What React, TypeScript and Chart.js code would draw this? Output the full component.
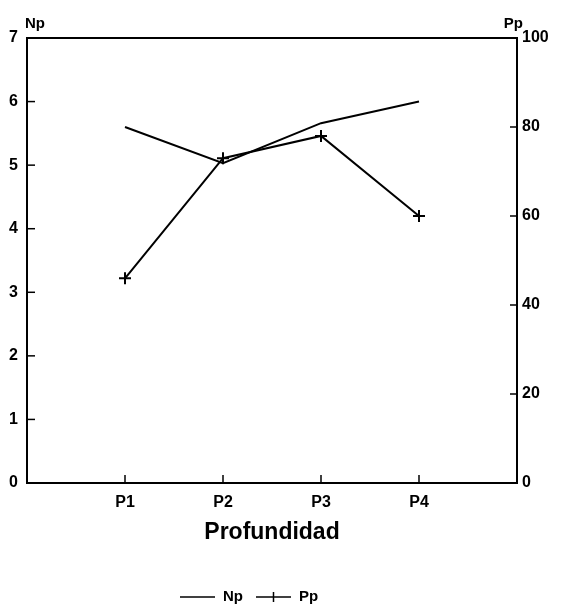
import React, { useEffect, useRef } from 'react';
import { Chart, registerables } from 'chart.js';

Chart.register(...registerables);

// ---- Data ----
const categories = ['', 'P1', 'P2', 'P3', 'P4', ''];
const npValues: (number | null)[] = [null, 5.6, 5.03, 5.66, 6.0, null];
const ppValues: (number | null)[] = [null, 46, 73, 78, 60, null];
const npRange = { min: 0, max: 7, step: 1 };
const ppRange = { min: 0, max: 100, step: 20 };
const xTitle = 'Profundidad';
const leftTitle = 'Np';
const rightTitle = 'Pp';
const seriesNames = ['Np', 'Pp'];

const FONT = '"Liberation Sans", Arial, sans-serif';

const framePlugin = {
  id: 'frame',
  afterDraw(chart: any) {
    const { ctx, chartArea: a, scales } = chart;
    ctx.save();
    ctx.strokeStyle = '#000';
    ctx.fillStyle = '#000';
    ctx.lineWidth = 2;
    ctx.strokeRect(a.left, a.top, a.right - a.left, a.bottom - a.top);

    // inward tick marks
    ctx.lineWidth = 1.5;
    scales.y.ticks.forEach((t: any) => {
      const y = scales.y.getPixelForValue(t.value);
      ctx.beginPath();
      ctx.moveTo(a.left, y);
      ctx.lineTo(a.left + 8, y);
      ctx.stroke();
    });
    scales.y1.ticks.forEach((t: any) => {
      const y = scales.y1.getPixelForValue(t.value);
      ctx.beginPath();
      ctx.moveTo(a.right - 7, y);
      ctx.lineTo(a.right, y);
      ctx.stroke();
    });
    categories.forEach((c, i) => {
      if (!c) return;
      const x = scales.x.getPixelForValue(i);
      ctx.beginPath();
      ctx.moveTo(x, a.bottom);
      ctx.lineTo(x, a.bottom - 8);
      ctx.stroke();
    });

    // axis titles
    ctx.font = `bold 15px ${FONT}`;
    ctx.textBaseline = 'alphabetic';
    ctx.textAlign = 'left';
    ctx.fillText(leftTitle, a.left - 2, a.top - 10);
    ctx.textAlign = 'right';
    ctx.fillText(rightTitle, a.right + 6, a.top - 10);

    // legend
    ctx.font = `bold 15px ${FONT}`;
    ctx.textAlign = 'left';
    ctx.textBaseline = 'middle';
    const ly = 597;
    const lineLen = 35;
    let x = a.left + 153;
    seriesNames.forEach((name, i) => {
      ctx.lineWidth = 1.5;
      ctx.beginPath();
      ctx.moveTo(x, ly);
      ctx.lineTo(x + lineLen, ly);
      ctx.stroke();
      if (i === 1) {
        const cx = x + lineLen / 2;
        ctx.beginPath();
        ctx.moveTo(cx, ly - 5);
        ctx.lineTo(cx, ly + 5);
        ctx.stroke();
      }
      x += lineLen + 8;
      ctx.fillText(name, x, ly);
      x += ctx.measureText(name).width + 13;
    });
    ctx.restore();
  },
};

export default function App() {
  const ref = useRef<HTMLCanvasElement | null>(null);

  useEffect(() => {
    if (!ref.current) return;
    const tickFont = { family: FONT, size: 16, weight: 'bold' as const };
    const chart = new Chart(ref.current, {
      type: 'line',
      data: {
        labels: categories,
        datasets: [
          {
            label: seriesNames[0],
            data: npValues,
            yAxisID: 'y',
            borderColor: '#000',
            backgroundColor: '#000',
            borderWidth: 2,
            pointRadius: 0,
            tension: 0,
          },
          {
            label: seriesNames[1],
            data: ppValues,
            yAxisID: 'y1',
            borderColor: '#000',
            backgroundColor: '#000',
            borderWidth: 2,
            pointStyle: 'cross',
            pointRadius: 6,
            pointBorderWidth: 2,
            tension: 0,
          },
        ],
      },
      options: {
        responsive: false,
        animation: false,
        layout: { padding: { top: 38, left: 0, right: 0, bottom: 58 } },
        plugins: {
          legend: { display: false },
          tooltip: { enabled: false },
        },
        scales: {
          x: {
            type: 'category',
            offset: false,
            grid: { display: false, drawTicks: false },
            border: { display: false },
            ticks: { color: '#000', font: tickFont, padding: 10, autoSkip: false, maxRotation: 0 },
            title: {
              display: true,
              text: xTitle,
              color: '#000',
              font: { family: FONT, size: 23, weight: 'bold' },
              padding: { top: 0, bottom: 4 },
            },
            afterFit: (s: any) => {
              s.height = 67;
            },
          },
          y: {
            position: 'left',
            min: npRange.min,
            max: npRange.max,
            grid: { display: false, drawTicks: false },
            border: { display: false },
            ticks: { stepSize: npRange.step, color: '#000', font: tickFont, padding: 9 },
            afterFit: (s: any) => {
              s.width = 27;
            },
          },
          y1: {
            position: 'right',
            min: ppRange.min,
            max: ppRange.max,
            grid: { display: false, drawTicks: false },
            border: { display: false },
            ticks: { stepSize: ppRange.step, color: '#000', font: tickFont, padding: 5 },
            afterFit: (s: any) => {
              s.width = 44;
            },
          },
        },
      },
      plugins: [framePlugin],
    });
    return () => chart.destroy();
  }, []);

  return (
    <div style={{ position: 'absolute', left: 0, top: 0, width: 561, height: 608, background: '#fff' }}>
      <canvas ref={ref} width={561} height={608} />
    </div>
  );
}
